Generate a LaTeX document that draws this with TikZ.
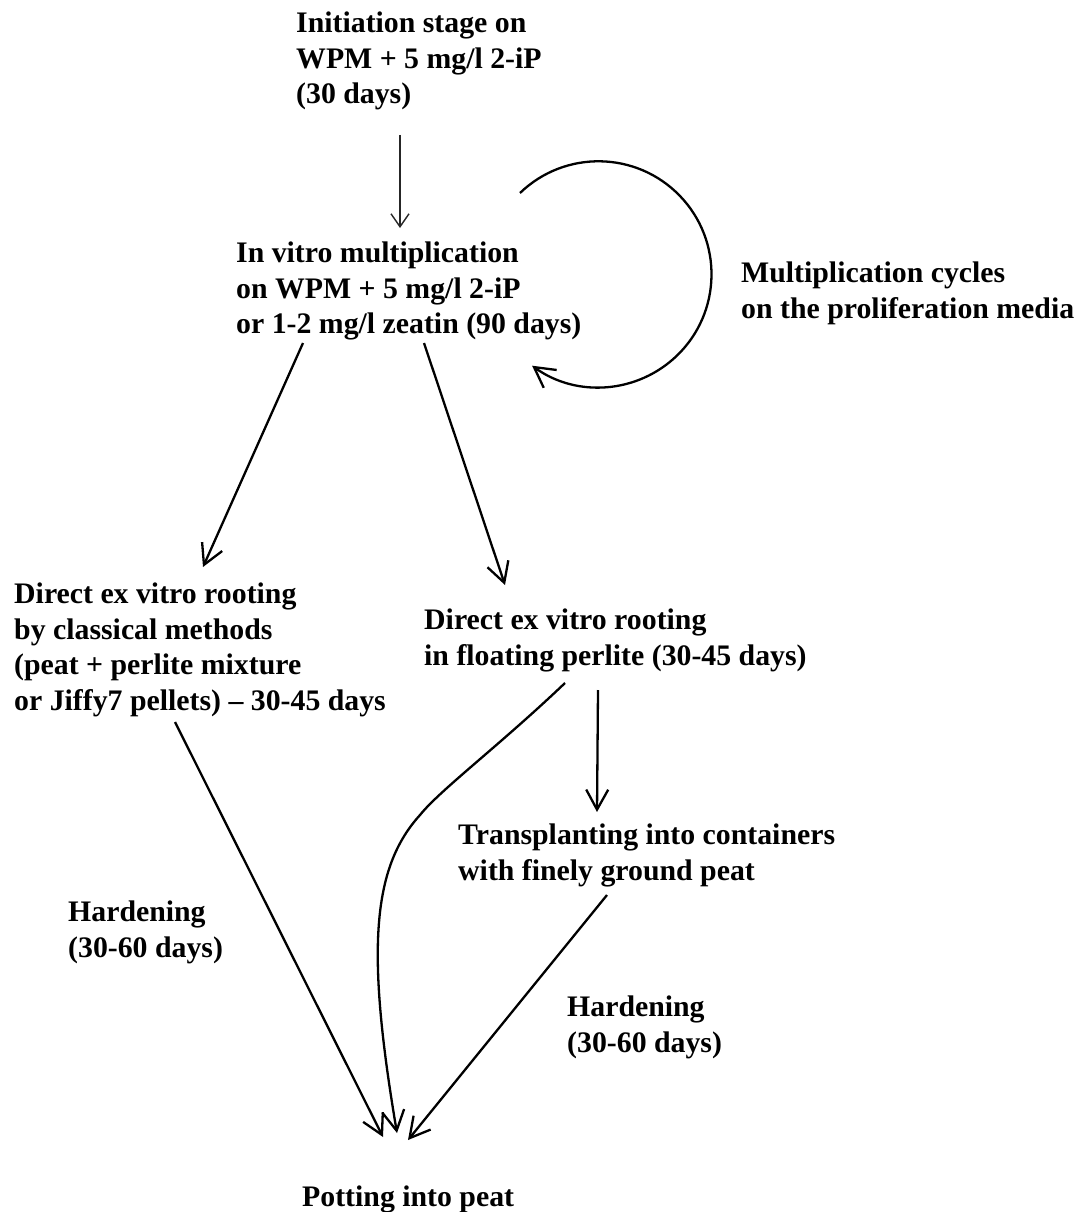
\documentclass[tikz,border=0pt]{standalone}
\usepackage{fontspec}
\setmainfont{Liberation Serif}
\usetikzlibrary{arrows.meta}

\begin{document}
\begin{tikzpicture}[x=1pt,y=-1pt,
  txt/.style={anchor=north west, inner sep=0pt, align=left,
    font=\bfseries\fontsize{29.8}{35.5}\selectfont},
  flow/.style={line width=2.3pt,
    -{Straight Barb[length=20pt,width=22pt]}},
  thinflow/.style={line width=1.4pt, draw=black!85,
    -{Straight Barb[length=13pt,width=18pt]}},
]
\fill[white] (0,0) rectangle (1090,1212);
\useasboundingbox (0,0) rectangle (1090,1212);

% stages
\node[txt] (init) at (296,12) {Initiation stage on\\WPM + 5 mg/l 2-iP\\(30 days)};
\node[txt] (mult) at (236,242) {In vitro multiplication\\on WPM + 5 mg/l 2-iP\\or 1-2 mg/l zeatin (90 days)};
\node[txt] (cyc) at (741,262) {Multiplication cycles\\on the proliferation media};
\node[txt] (classic) at (14,583) {Direct ex vitro rooting\\by classical methods\\(peat + perlite mixture\\or Jiffy7 pellets) -- 30-45 days};
\node[txt] (float) at (424,609) {Direct ex vitro rooting\\in floating perlite (30-45 days)};
\node[txt] (trans) at (458,824) {Transplanting into containers\\with finely ground peat};
\node[txt] (hardA) at (68,901) {Hardening\\(30-60 days)};
\node[txt] (hardB) at (567,996) {Hardening\\(30-60 days)};
\node[txt] (pot) at (302,1186) {Potting into peat};

% connectors
\draw[thinflow] ([shift={(104,123)}]init.north west) -- ([shift={(164,-14)}]mult.north west);
\draw[flow] ([shift={(284,-49)}]mult.north west)
  arc[start angle=226, end angle=486, radius=113];
\draw[flow] ([shift={(67,101)}]mult.north west) -- ([shift={(189,-16)}]classic.north west);
\draw[flow] ([shift={(188,101)}]mult.north west) -- ([shift={(81,-24)}]float.north west);
\draw[flow] ([shift={(174,81)}]float.north west) -- ([shift={(139,-12)}]trans.north west);
\draw[flow] ([shift={(141,74)}]float.north west) .. controls (500,745) and (440,790) .. (420,815)
  .. controls (372,868) and (366,950) .. ([shift={(95,-53)}]pot.north west);
\draw[flow] ([shift={(161,139)}]classic.north west) -- ([shift={(81,-49)}]pot.north west);
\draw[flow] ([shift={(149,71)}]trans.north west) -- ([shift={(106,-46)}]pot.north west);
\end{tikzpicture}
\end{document}
